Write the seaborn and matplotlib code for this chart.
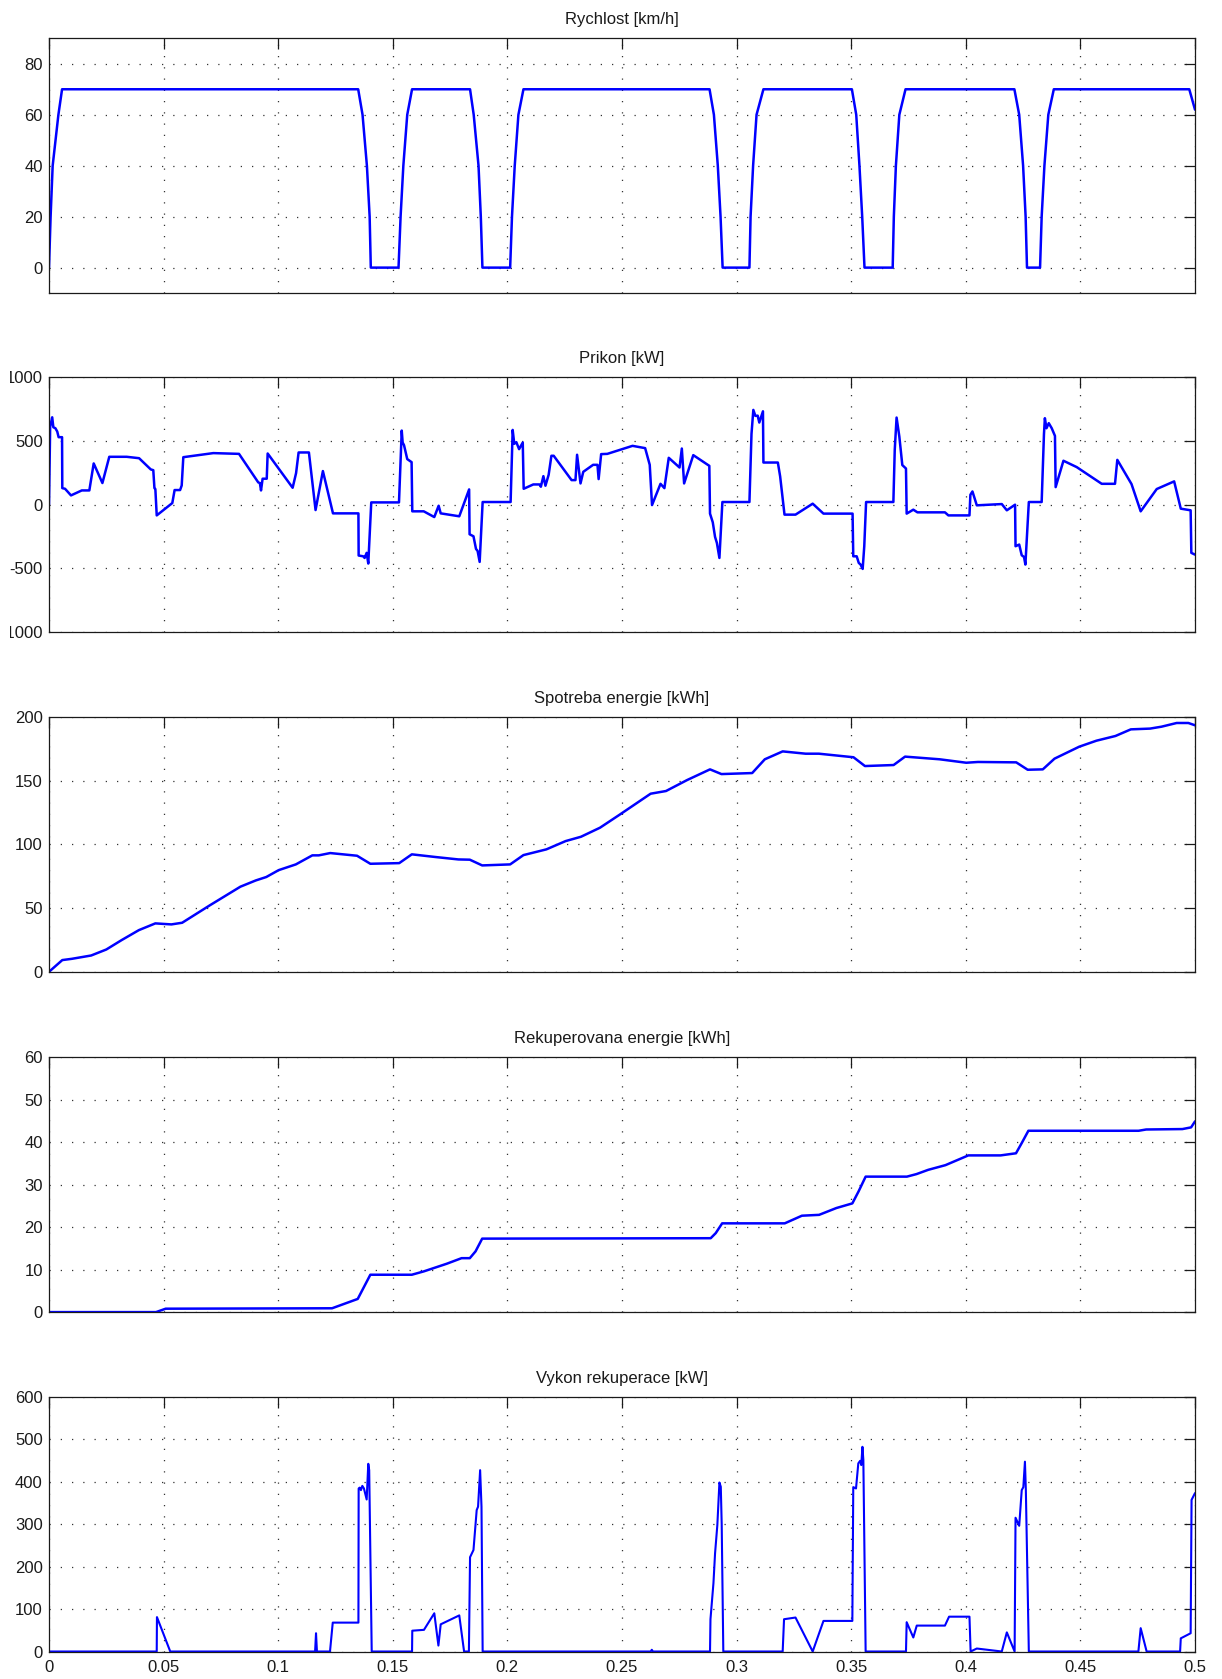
import numpy as np
import pandas as pd
import matplotlib
matplotlib.use("Agg")
import matplotlib.pyplot as plt
import seaborn as sns
from matplotlib.transforms import Bbox

# ---------------- data ----------------
titles = ["Rychlost [km/h]", "Prikon [kW]", "Spotreba energie [kWh]",
          "Rekuperovana energie [kWh]", "Vykon rekuperace [kW]"]

x_ticks = [0, 0.05, 0.1, 0.15, 0.2, 0.25, 0.3, 0.35, 0.4, 0.45, 0.5]
x_tick_labels = ["0", "0.05", "0.1", "0.15", "0.2", "0.25", "0.3", "0.35", "0.4", "0.45", "0.5"]

y_ticks_speed = [0, 20, 40, 60, 80]
y_ticks_power = [-1000, -500, 0, 500, 1000]
y_ticks_energy = [0, 50, 100, 150, 200]
y_ticks_recup = [0, 10, 20, 30, 40, 50, 60]
y_ticks_recpow = [0, 100, 200, 300, 400, 500, 600]

t_speed = [0, 0.0007, 0.0016, 0.0041, 0.0057, 0.1349, 0.1368, 0.1387, 0.1399, 0.1404,
           0.1525, 0.1534, 0.1546, 0.1563, 0.1584, 0.1837, 0.1853, 0.1874, 0.1884, 0.1891,
           0.2012, 0.2020, 0.2032, 0.2048, 0.2070, 0.2882, 0.2901, 0.2918, 0.2930, 0.2939,
           0.3056, 0.3061, 0.3072, 0.3087, 0.3117, 0.3503, 0.3522, 0.3536, 0.3548, 0.3558,
           0.3681, 0.3686, 0.3695, 0.3710, 0.3737, 0.4212, 0.4233, 0.4250, 0.4261, 0.4267,
           0.4324, 0.4331, 0.4343, 0.4360, 0.4384, 0.4975, 0.5]
v_speed = [0, 20, 40, 60, 70, 70, 60, 40, 20, 0,
           0, 20, 40, 60, 70, 70, 60, 40, 20, 0,
           0, 20, 40, 60, 70, 70, 60, 40, 20, 0,
           0, 20, 40, 60, 70, 70, 60, 40, 20, 0,
           0, 20, 40, 60, 70, 70, 60, 40, 20, 0,
           0, 20, 40, 60, 70, 70, 62]

t_power = [0, 0.0005, 0.0014, 0.0019, 0.0028, 0.0036, 0.0042, 0.0057, 0.0058, 0.0070,
           0.0096, 0.0143, 0.0176, 0.0195, 0.0233, 0.0263, 0.0339, 0.0393, 0.0444, 0.0455,
           0.0460, 0.0464, 0.0470, 0.0538, 0.0548, 0.0572, 0.0579, 0.0586, 0.0717, 0.0829,
           0.0913, 0.0920, 0.0925, 0.0932, 0.0950, 0.0954, 0.1063, 0.1078, 0.1089, 0.1134,
           0.1163, 0.1195, 0.1239, 0.1350, 0.1351, 0.1371, 0.1377, 0.1386, 0.1393, 0.1406,
           0.1527, 0.1539, 0.1543, 0.1549, 0.1563, 0.1582, 0.1585, 0.1635, 0.1681, 0.1700,
           0.1709, 0.1790, 0.1833, 0.1835, 0.1852, 0.1863, 0.1870, 0.1879, 0.1892, 0.2014,
           0.2023, 0.2030, 0.2039, 0.2051, 0.2067, 0.2071, 0.2113, 0.2140, 0.2146, 0.2157,
           0.2166, 0.2180, 0.2192, 0.2202, 0.2280, 0.2297, 0.2304, 0.2319, 0.2331, 0.2374,
           0.2393, 0.2398, 0.2409, 0.2436, 0.2546, 0.2601, 0.2621, 0.2631, 0.2668, 0.2685,
           0.2704, 0.2751, 0.2761, 0.2771, 0.2811, 0.2881, 0.2884, 0.2896, 0.2906, 0.2914,
           0.2925, 0.2938, 0.3056, 0.3065, 0.3073, 0.3082, 0.3092, 0.3099, 0.3115, 0.3117,
           0.3180, 0.3190, 0.3209, 0.3257, 0.3332, 0.3379, 0.3506, 0.3509, 0.3524, 0.3533,
           0.3541, 0.3550, 0.3557, 0.3565, 0.3684, 0.3690, 0.3698, 0.3710, 0.3723, 0.3739,
           0.3742, 0.3771, 0.3789, 0.3909, 0.3924, 0.4016, 0.4020, 0.4029, 0.4048, 0.4157,
           0.4179, 0.4215, 0.4217, 0.4233, 0.4244, 0.4254, 0.4260, 0.4275, 0.4331, 0.4341,
           0.4345, 0.4352, 0.4362, 0.4375, 0.4389, 0.4392, 0.4426, 0.4484, 0.4593, 0.4651,
           0.4661, 0.4723, 0.4763, 0.4833, 0.4909, 0.4938, 0.4981, 0.4984, 0.5]
p_power = [0, 610, 686, 608, 600, 574, 530, 530, 130, 125,
           73, 112, 112, 324, 170, 376, 376, 365, 277, 271,
           130, 123, -84, 13, 115, 115, 151, 373, 405, 399,
           175, 170, 112, 204, 204, 402, 133, 248, 410, 410,
           -42, 264, -68, -68, -399, -405, -418, -378, -462, 18,
           18, 582, 488, 467, 358, 334, -52, -52, -97, -8,
           -68, -91, 120, -232, -248, -347, -363, -449, 21, 21,
           587, 478, 491, 436, 488, 125, 159, 159, 141, 224,
           149, 235, 384, 384, 193, 193, 392, 167, 258, 313,
           313, 201, 397, 399, 462, 444, 313, -3, 164, 130,
           368, 292, 441, 167, 389, 305, -70, -138, -253, -300,
           -418, 21, 21, 556, 744, 697, 699, 645, 733, 331,
           331, 222, -78, -78, 8, -70, -70, -405, -405, -457,
           -470, -504, -326, 21, 21, 431, 684, 535, 311, 284,
           -70, -39, -60, -60, -84, -84, 78, 104, -5, 5,
           -44, 0, -326, -313, -397, -410, -470, 21, 21, 553,
           679, 600, 640, 600, 540, 138, 345, 295, 164, 164,
           352, 162, -52, 123, 183, -31, -44, -378, -392]

t_energy = [0, 0.0058, 0.0100, 0.0184, 0.0250, 0.0317, 0.0392, 0.0464, 0.0534, 0.0581,
            0.0701, 0.0835, 0.0902, 0.0948, 0.1002, 0.1077, 0.1149, 0.1177, 0.1227, 0.1344,
            0.1402, 0.1528, 0.1583, 0.1686, 0.1786, 0.1836, 0.1890, 0.2012, 0.2070, 0.2170,
            0.2254, 0.2321, 0.2404, 0.2487, 0.2625, 0.2692, 0.2784, 0.2884, 0.2934, 0.3068,
            0.3123, 0.3201, 0.3301, 0.3359, 0.3510, 0.3560, 0.3685, 0.3735, 0.3886, 0.4002,
            0.4053, 0.4220, 0.4270, 0.4336, 0.4387, 0.4495, 0.4570, 0.4653, 0.4720, 0.4804,
            0.4854, 0.4920, 0.4971, 0.5]
e_energy = [0, 9.2, 10.2, 12.8, 17.5, 24.9, 32.7, 38.0, 37.2, 38.5,
            52.1, 66.8, 71.7, 74.4, 79.8, 84.3, 91.4, 91.4, 93.2, 91.1,
            84.8, 85.3, 92.2, 90.1, 88.2, 88.0, 83.5, 84.3, 91.6, 96.1,
            102.6, 106.0, 113.1, 123.0, 139.8, 141.9, 150.5, 158.9, 155.2, 156.0,
            166.8, 173.0, 171.2, 171.2, 168.4, 161.5, 162.3, 168.9, 166.8, 164.1,
            164.7, 164.4, 158.6, 158.9, 167.3, 176.7, 181.4, 185.1, 190.3, 190.9,
            192.4, 195.3, 195.3, 193.5]

t_recup = [0, 0.0467, 0.0509, 0.1235, 0.1347, 0.1402, 0.1583, 0.1636, 0.1686, 0.1736,
           0.1800, 0.1836, 0.1861, 0.1890, 0.2887, 0.2909, 0.2937, 0.3210, 0.3285, 0.3360,
           0.3435, 0.3505, 0.3532, 0.3563, 0.3743, 0.3785, 0.3836, 0.3911, 0.4011, 0.4152,
           0.4219, 0.4244, 0.4273, 0.4754, 0.4787, 0.4945, 0.4983, 0.5]
r_recup = [0, 0, 0.8, 0.9, 3.1, 8.8, 8.8, 9.6, 10.5, 11.4,
           12.7, 12.7, 14.3, 17.3, 17.4, 18.6, 20.9, 20.9, 22.7, 22.9,
           24.5, 25.6, 28.4, 31.9, 31.9, 32.5, 33.5, 34.6, 36.9, 36.9,
           37.4, 39.8, 42.7, 42.7, 43.0, 43.1, 43.5, 44.9]

t_recpow = [0, 0.0470, 0.0471, 0.0529, 0.1161, 0.1165, 0.1169, 0.1226, 0.1238, 0.1350,
            0.1351, 0.1356, 0.1361, 0.1367, 0.1374, 0.1386, 0.1393, 0.1397, 0.1408, 0.1584,
            0.1585, 0.1636, 0.1681, 0.1699, 0.1709, 0.1790, 0.1811, 0.1832, 0.1837, 0.1852,
            0.1866, 0.1872, 0.1881, 0.1887, 0.1892, 0.2625, 0.2630, 0.2635, 0.2884, 0.2886,
            0.2899, 0.2906, 0.2916, 0.2925, 0.2931, 0.2935, 0.2942, 0.3201, 0.3207, 0.3257,
            0.3332, 0.3379, 0.3505, 0.3509, 0.3521, 0.3531, 0.3539, 0.3544, 0.3549, 0.3553,
            0.3563, 0.3739, 0.3742, 0.3771, 0.3786, 0.3909, 0.3927, 0.4016, 0.4021, 0.4048,
            0.4157, 0.4179, 0.4213, 0.4217, 0.4233, 0.4244, 0.4251, 0.4258, 0.4262, 0.4275,
            0.4753, 0.4763, 0.4789, 0.4935, 0.4938, 0.4981, 0.4985, 0.5]
w_recpow = [0, 0, 81, 0, 0, 43, 0, 0, 68, 68,
            384, 386, 380, 390, 384, 358, 442, 427, 0, 0,
            49, 51, 90, 14, 64, 85, 0, 0, 222, 239,
            333, 341, 427, 341, 0, 0, 4, 0, 0, 76,
            161, 231, 298, 398, 388, 300, 0, 0, 76, 80,
            0, 72, 72, 387, 384, 443, 449, 439, 482, 451,
            0, 0, 69, 33, 61, 61, 82, 82, 0, 7,
            0, 45, 0, 315, 296, 380, 387, 447, 380, 0,
            0, 55, 0, 0, 31, 43, 357, 373]

series = [(t_speed, v_speed, (-10, 90), y_ticks_speed),
          (t_power, p_power, (-1000, 1000), y_ticks_power),
          (t_energy, e_energy, (0, 200), y_ticks_energy),
          (t_recup, r_recup, (0, 60), y_ticks_recup),
          (t_recpow, w_recpow, (0, 600), y_ticks_recpow)]

# ---------------- style ----------------
sns.set_style("white")
plt.rcParams['font.family'] = ['Liberation Sans', 'DejaVu Sans']
plt.rcParams['font.size'] = 12

W, H = 1222, 1679
DPI = 100
fig = plt.figure(figsize=(W / DPI, H / DPI), dpi=DPI)

left_px, right_px = 49, 1195
tops_px = [38.3, 377.3, 717.0, 1057.3, 1396.7]
height_px = 254.8

axes = []
for i, (tt, vv, ylim, yt) in enumerate(series):
    top = tops_px[i]
    ax = fig.add_axes([left_px / W, 1 - (top + height_px) / H,
                       (right_px - left_px) / W, height_px / H])
    df = pd.DataFrame({"t": tt, "v": vv})
    lw = 1.5 if i == 4 else 1.8
    sns.lineplot(data=df, x="t", y="v", ax=ax, color="#0000FF", linewidth=lw,
                 sort=False, estimator=None)
    ax.set_xlim(0, 0.5)
    ax.set_ylim(*ylim)
    ax.set_xticks(x_ticks)
    ax.set_yticks(yt)
    ax.set_yticklabels([str(v) for v in yt])
    if i == 4:
        ax.set_xticklabels(x_tick_labels)
    else:
        ax.set_xticklabels([])
    ax.set_xlabel("")
    ax.set_ylabel("")
    ax.set_title(titles[i], fontsize=12, pad=10, color="#1a1a1a")
    ax.grid(True, linestyle=(0, (1, 8)), color="#333333", linewidth=0.9)
    ax.set_axisbelow(True)
    ax.tick_params(axis="both", direction="in", length=8, width=0.9,
                   top=True, right=True, color="#1a1a1a", labelsize=12,
                   labelcolor="#1a1a1a")
    ax.tick_params(axis="y", pad=4.5)
    ax.tick_params(axis="x", pad=6)
    for s in ax.spines.values():
        s.set_visible(True)
        s.set_color("#1a1a1a")
        s.set_linewidth(0.9)
    axes.append(ax)

# clip tick labels at the left edge like the reference image crop
fig.canvas.draw()
clipbb = Bbox.from_extents(10, 0, W, H)
for ax in axes:
    for lab in ax.get_yticklabels():
        lab.set_clip_box(clipbb)
        lab.set_clip_on(True)

fig.savefig("out.png", dpi=DPI)
